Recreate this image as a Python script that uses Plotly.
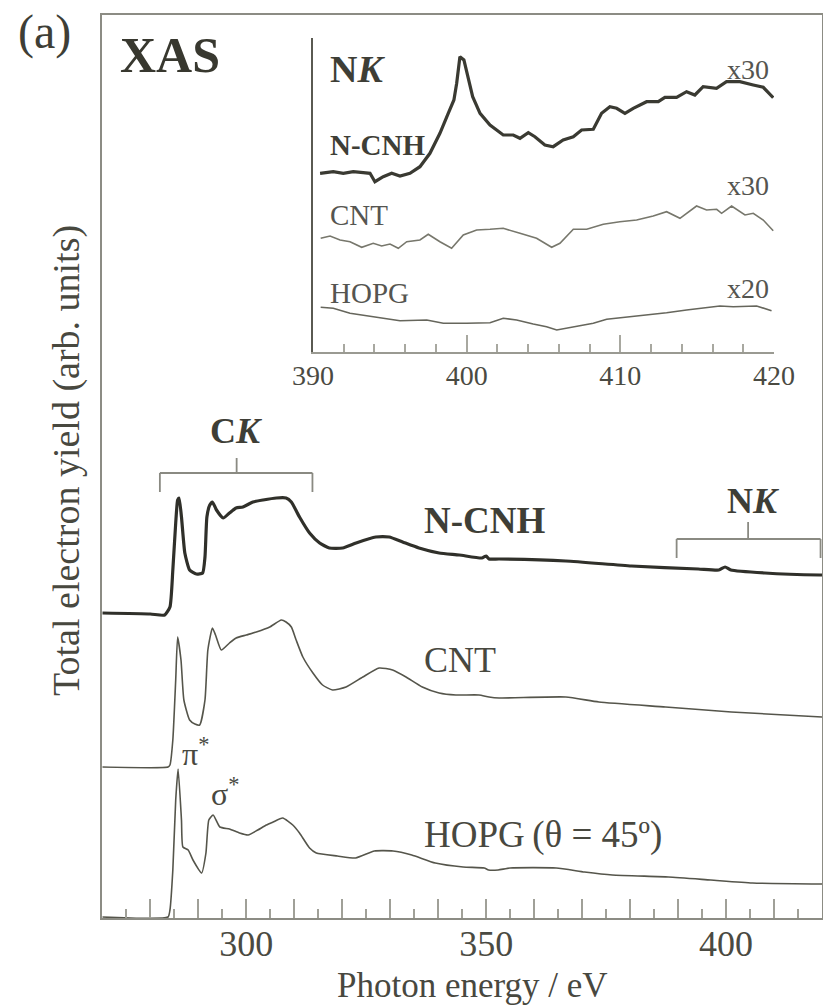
import plotly.graph_objects as go

W, H = 823, 1008
FONT = "Liberation Serif"
TXT = "#3e3e36"

# ---------------- main spectra (C K region), arb. units ----------------
ncnh_E = [270, 280, 283.0, 284.1, 284.7, 285.3, 285.7, 286.0, 286.5, 287.2, 288.2, 289.6, 290.9,
          291.4, 291.8, 292.4, 292.95, 293.8, 295.2, 296.5, 297.9, 299.3, 301.4, 303.5, 306.3,
          308.3, 309.4, 311.1, 313.2, 315.3, 317.3, 320.1, 322.9, 327.0, 329.8, 332.6, 336.0,
          340.2, 344.4, 349.1, 350.0, 350.6, 352.7, 366.6, 380.3, 394.2, 398.5, 399.8, 401.0,
          408.1, 419.5, 420]
ncnh_Y = [30.5, 30.4, 30.3, 31.1, 34.8, 39.5, 41.8, 42.0, 40.1, 36.5, 34.8, 34.4, 34.5,
          36.1, 40.1, 41.3, 41.6, 40.8, 40.0, 40.5, 41.0, 41.1, 41.6, 41.8, 42.0,
          42.0, 41.6, 40.1, 38.5, 37.5, 37.0, 37.0, 37.5, 38.1, 38.1, 37.6, 37.0,
          36.5, 36.3, 36.0, 36.2, 35.9, 35.9, 35.7, 35.2, 34.9, 34.8, 35.1, 34.8,
          34.5, 34.3, 34.3]

cnt_E = [270, 283.7, 284.1, 284.7, 285.3, 285.7, 286.4, 287.0, 288.2, 289.3, 290.3, 291.4, 292.0,
         292.95, 293.6, 294.8, 296.5, 297.9, 300.0, 302.1, 304.9, 307.3, 308.3, 309.4, 310.4,
         311.8, 313.9, 315.9, 318.0, 320.8, 324.3, 327.7, 330.5, 333.3, 336.7, 340.2, 343.7,
         348.5, 350.6, 352.7, 366.6, 373.5, 387.4, 401.1, 420]
cnt_Y = [15.1, 15.1, 15.3, 17.8, 23.8, 28.1, 25.8, 21.8, 19.8, 19.4, 19.3, 21.8, 26.8,
         29.0, 28.3, 26.8, 27.5, 28.0, 28.3, 28.6, 29.1, 29.8, 29.6, 29.1, 27.8,
         26.1, 24.5, 23.3, 22.8, 23.1, 24.1, 25.0, 24.8, 24.1, 23.1, 22.5, 22.3,
         22.3, 22.1, 22.0, 22.1, 21.6, 21.1, 20.6, 20.1]

hopg_E = [270, 283.7, 284.1, 284.7, 285.3, 285.8, 286.5, 286.8, 287.9, 288.9, 290.7, 291.6, 292.2,
          293.1, 294.5, 296.5, 298.6, 300.4, 302.4, 304.2, 305.6, 307.6, 309.7, 311.1, 313.2,
          314.6, 319.0, 322.8, 326.7, 330.6, 334.5, 339.4, 345.2, 349.6, 350.5, 352.5, 355.0,
          364.6, 370.5, 376.3, 388.0, 396.8, 405.5, 420]
hopg_Y = [0.1, 0.1, 0.8, 4.8, 11.8, 14.9, 9.8, 7.1, 6.8, 5.8, 4.5, 6.5, 9.8,
          10.3, 9.1, 8.9, 8.5, 8.3, 8.8, 9.3, 9.6, 10.0, 9.3, 8.5, 7.0,
          6.5, 6.2, 6.0, 6.7, 6.7, 6.3, 5.5, 5.1, 5.0, 4.8, 4.8, 5.0,
          5.0, 4.6, 4.3, 4.1, 3.8, 3.5, 3.4]

# ---------------- inset spectra (N K region) ----------------
in_ncnh_E = [390.46, 391.32, 391.97, 392.62, 393.27, 393.71, 394.03, 394.57, 395.12, 395.66, 396.31,
             396.96, 397.61, 398.26, 398.80, 399.17, 399.35, 399.56, 399.82, 400.10, 400.39, 400.87,
             401.52, 402.38, 403.03, 403.47, 404.01, 404.44, 405.09, 405.63, 406.28, 406.94, 407.48,
             408.24, 408.78, 409.32, 409.76, 410.30, 410.84, 411.71, 412.47, 412.90, 413.66, 414.31,
             414.85, 415.39, 416.26, 416.91, 417.78, 418.65, 419.30, 419.95]
in_ncnh_Y = [17.87, 18.03, 17.87, 18.03, 17.93, 17.87, 17.03, 17.53, 17.87, 17.6, 17.87,
             18.53, 19.87, 21.87, 23.87, 25.2, 26.87, 29.53, 29.2, 27.53, 25.53, 23.87,
             22.7, 21.7, 21.7, 21.37, 21.93, 21.53, 20.7, 20.53, 21.2, 21.53, 22.2,
             22.27, 23.87, 24.53, 24.37, 23.87, 24.37, 25.03, 25.03, 25.47, 25.47, 26.03,
             25.7, 26.53, 26.37, 27.03, 27.03, 26.7, 26.47, 25.43]

in_cnt_E = [390.50, 391.11, 391.76, 392.41, 393.17, 393.92, 394.47, 395.01, 395.55, 396.10, 396.96,
            397.50, 398.26, 399.02, 399.78, 400.65, 401.52, 402.38, 403.47, 404.55, 405.53, 406.07,
            406.94, 407.81, 408.89, 409.97, 411.06, 412.14, 413.01, 413.88, 414.96, 415.61, 416.27,
            416.59, 417.24, 418.11, 418.65, 419.30, 419.95]
in_cnt_Y = [11.37, 11.6, 11.2, 11.03, 10.47, 10.87, 10.6, 10.8, 10.37, 11.03, 11.2,
            11.77, 11.03, 10.37, 11.7, 12.2, 12.27, 12.37, 11.87, 11.37, 10.47, 10.87,
            12.27, 12.27, 12.77, 13.03, 13.2, 13.6, 14.03, 13.37, 14.6, 14.2, 14.27,
            13.87, 14.6, 13.7, 13.87, 13.2, 12.13]

in_hopg_E = [390.50, 391.32, 392.41, 393.92, 395.66, 397.40, 398.48, 400.00, 401.52, 402.38, 403.25,
             404.33, 405.20, 405.86, 406.94, 408.24, 409.11, 410.84, 411.93, 413.01, 414.31, 415.39,
             416.48, 417.35, 418.87, 419.84]
in_hopg_Y = [4.47, 4.37, 3.87, 3.53, 3.13, 3.2, 2.87, 2.87, 2.93, 3.37, 3.2,
             2.8, 2.53, 2.2, 2.53, 2.87, 3.27, 3.53, 3.7, 3.93, 4.2, 4.37,
             4.6, 4.53, 4.6, 4.13]

# axis tick values / labels
main_ticks = list(range(280, 411, 10))
main_labels = [300, 350, 400]
inset_ticks = [390, 400, 410, 420]

# bracket ranges (eV) and heights (arb. units)
CK_range = (282.0, 313.8, 298.0)
CK_level = (44.5, 42.6, 46.0)
NK_range = (389.7, 419.7, 404.6)
NK_level = (37.9, 36.0, 39.6)


def px(x, y):
    return x / W, 1 - y / H


fig = go.Figure()
dark = "#30302a"
mid = "#55554b"
fig.add_trace(go.Scatter(x=ncnh_E, y=ncnh_Y, mode="lines", line=dict(color=dark, width=3.2, shape="spline", smoothing=0.5)))
fig.add_trace(go.Scatter(x=cnt_E, y=cnt_Y, mode="lines", line=dict(color=mid, width=1.6, shape="spline", smoothing=0.5)))
fig.add_trace(go.Scatter(x=hopg_E, y=hopg_Y, mode="lines", line=dict(color=mid, width=1.6, shape="spline", smoothing=0.5)))

fig.add_trace(go.Scatter(x=in_ncnh_E, y=in_ncnh_Y, mode="lines", xaxis="x2", yaxis="y2",
                         line=dict(color="#3a3a32", width=3.2)))
fig.add_trace(go.Scatter(x=in_cnt_E, y=in_cnt_Y, mode="lines", xaxis="x2", yaxis="y2",
                         line=dict(color="#77776c", width=1.6)))
fig.add_trace(go.Scatter(x=in_hopg_E, y=in_hopg_Y, mode="lines", xaxis="x2", yaxis="y2",
                         line=dict(color="#66665c", width=1.6)))

xl, xr = 102.3 / W, 822 / W
yb, yt = 1 - 918 / H, 1 - 15 / H
ixl, ixr = 313 / W, 774 / W
iyb, iyt = 1 - 352 / H, 1 - 38 / H
TICKC = "#a0a098"

fig.update_layout(
    width=W, height=H, margin=dict(l=0, r=0, t=0, b=0, autoexpand=False),
    paper_bgcolor="white", plot_bgcolor="white", showlegend=False,
    font=dict(family=FONT, color=TXT),
    xaxis=dict(domain=[xl, xr], range=[270, 420], showline=True, linecolor="#8c8c84", linewidth=2,
               mirror=True, ticks="inside", tickmode="array", tickvals=main_ticks, showticklabels=False,
               ticklen=19, tickwidth=1.5, tickcolor=TICKC, automargin=False,
               minor=dict(tickmode="linear", tick0=275, dtick=10, ticks="inside", ticklen=9,
                          tickwidth=1.5, tickcolor=TICKC),
               showgrid=False, zeroline=False),
    xaxis3=dict(domain=[xl, xr], range=[270, 420], overlaying="x", anchor="y", side="bottom",
                showline=False, ticks="", tickmode="array", tickvals=main_labels,
                tickfont=dict(size=36, family=FONT, color="#4a4a42"), showgrid=False, zeroline=False,
                automargin=False, ticklabelstandoff=1),
    yaxis=dict(domain=[yb, yt], range=[0, 90.3], showline=True, linecolor="#8c8c84", linewidth=2,
               mirror=True, ticks="", showticklabels=False, showgrid=False, zeroline=False,
               automargin=False),
    xaxis2=dict(domain=[ixl, ixr], anchor="y2", range=[390, 420], showline=True, linecolor="#9a9a92",
                linewidth=2, ticks="inside", tickmode="array", tickvals=inset_ticks, ticklen=17,
                tickwidth=1.5, tickcolor="#a8a8a0", automargin=False,
                minor=dict(tickmode="linear", tick0=390, dtick=2, ticks="inside", ticklen=8,
                           tickwidth=1.5, tickcolor="#a8a8a0"),
                tickfont=dict(size=28, family=FONT, color="#4a4a42"), showgrid=False, zeroline=False,
                ticklabelstandoff=-3),
    yaxis2=dict(domain=[iyb, iyt], anchor="x2", range=[0, 31.4], showline=True, linecolor="#5a5a52",
                linewidth=2, ticks="", showticklabels=False, showgrid=False, zeroline=False,
                automargin=False),
)
# invisible point so the label axis (xaxis3) is drawn
fig.add_trace(go.Scatter(x=[270], y=[0], xaxis="x3", yaxis="y", mode="markers",
                         marker=dict(opacity=0), hoverinfo="skip"))

anns = []


def text(t, x, y, size, bold=False, **kw):
    xx, yy = px(x, y)
    s = f"<b>{t}</b>" if bold else t
    anns.append(dict(text=s, x=xx, y=yy, xref="paper", yref="paper", showarrow=False,
                     xanchor=kw.get("xanchor", "center"), yanchor="middle",
                     font=dict(family=FONT, size=size, color=kw.get("color", TXT)),
                     textangle=kw.get("angle", 0)))


text("(a)", 44, 32, 48)
text("XAS", 170, 55, 50, bold=True, color="#38382f")
text("N<i>K</i>", 357, 69, 38, bold=True)
text("N-CNH", 328, 145, 29, bold=True, xanchor="left")
text("CNT", 328, 215, 29, xanchor="left", color="#555550")
text("HOPG", 328, 293, 29, xanchor="left", color="#555550")
text("x30", 748, 70, 28, color="#555550")
text("x30", 748, 185, 28, color="#555550")
text("x20", 748, 288, 28, color="#555550")
text("C<i>K</i>", 236, 431, 36, bold=True)
text("N-CNH", 422, 520, 37, bold=True, xanchor="left")
text("N<i>K</i>", 753, 501, 36, bold=True)
text("CNT", 422, 660, 36, xanchor="left", color="#48483f")
text("HOPG\u2009(θ = 45º)", 422, 835, 37, xanchor="left", color="#48483f")
text("π<sup>*</sup>", 195, 752, 32, color="#48483f")
text("σ<sup>*</sup>", 225, 792, 32, color="#48483f")
text("Photon energy / eV", 472, 985, 35, color="#48483f")
text("Total electron yield (arb. units)", 67, 461, 38, angle=-90, color="#48483f")
fig.update_layout(annotations=anns)

# brackets
shapes = []
for (a, b, c), (h, lo, hi) in ((CK_range, CK_level), (NK_range, NK_level)):
    for (x0, y0, x1, y1) in ((a, h, b, h), (a, h, a, lo), (b, h, b, lo), (c, h, c, hi)):
        shapes.append(dict(type="line", xref="x", yref="y", x0=x0, y0=y0, x1=x1, y1=y1,
                           line=dict(color="#8a8a82", width=1.8)))
fig.update_layout(shapes=shapes)

fig.write_html("out.html")
